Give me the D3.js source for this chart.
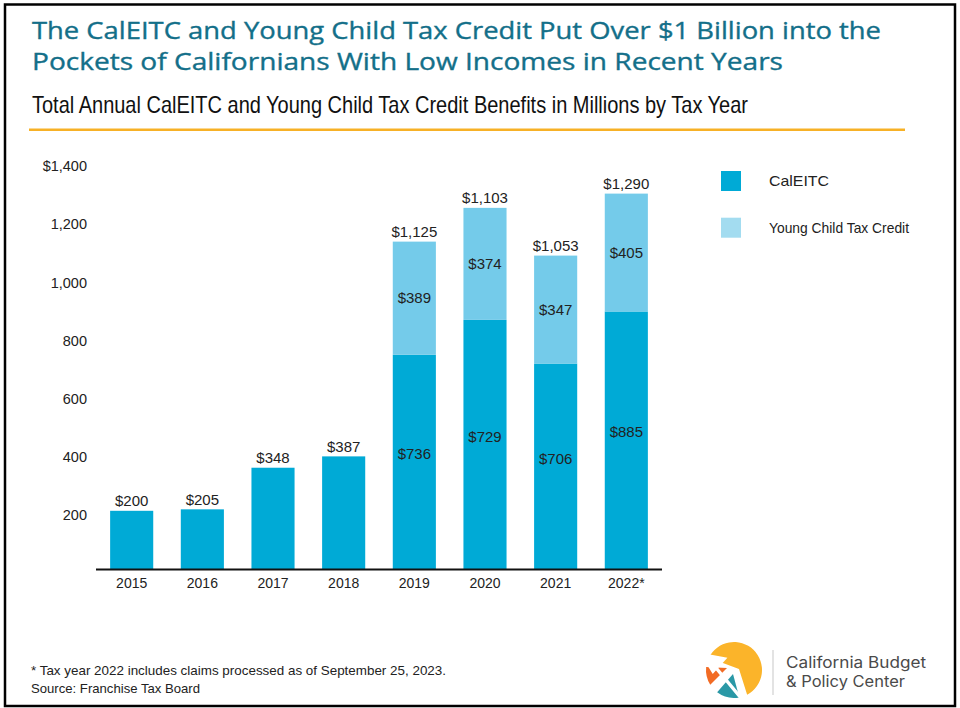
<!DOCTYPE html>
<html>
<head>
<meta charset="utf-8">
<script src="https://cdn.jsdelivr.net/npm/d3@7"></script>
<style>
  html, body { margin: 0; padding: 0; background: #fff; }
  svg { display: block; }
</style>
</head>
<body>
<svg id="chart" width="960" height="708"></svg>
<script>
// ---- Data (millions of dollars) ----
const years = ["2015", "2016", "2017", "2018", "2019", "2020", "2021", "2022*"];
// bar heights as drawn in the reference
const calEITC = [200, 205, 348, 387, 736, 856, 706, 885];
const youngChild = [0, 0, 0, 0, 389, 385, 371, 405];
// values as printed on the reference
const calEITCLabels = [200, 205, 348, 387, 736, 729, 706, 885];
const youngChildLabels = [null, null, null, null, 389, 374, 347, 405];
const totalLabels = [200, 205, 348, 387, 1125, 1103, 1053, 1290];
const yTicks = [200, 400, 600, 800, 1000, 1200, 1400];
const seriesNames = ["CalEITC", "Young Child Tax Credit"];

const titleLines = [
  "The CalEITC and Young Child Tax Credit Put Over $1 Billion into the",
  "Pockets of Californians With Low Incomes in Recent Years"
];
const subtitle = "Total Annual CalEITC and Young Child Tax Credit Benefits in Millions by Tax Year";
const notes = [
  "* Tax year 2022 includes claims processed as of September 25, 2023.",
  "Source: Franchise Tax Board"
];
const logoLines = ["California Budget", "& Policy Center"];

// ---- Styles ----
const C_DARK = "#00aad6";
const C_LIGHT = "#74cbea";
const C_LEGEND_LIGHT = "#a3dcf0";
const C_TITLE = "#136f89";
const C_RULE = "#f7b126";
const NARROW = "'Liberation Sans Narrow', 'Liberation Sans', Arial, sans-serif";
const LABEL = "'Liberation Sans', Arial, sans-serif";

const svg = d3.select("#chart");

function fitWidth(sel, w) {
  sel.each(function () {
    const len = this.getComputedTextLength();
    if (len > 0 && Math.abs(len - w) > 1) {
      d3.select(this).attr("textLength", w).attr("lengthAdjust", "spacingAndGlyphs");
    }
  });
  return sel;
}

// frame
svg.append("rect")
  .attr("x", 5).attr("y", 4.5).attr("width", 950).attr("height", 701.5)
  .attr("fill", "none").attr("stroke", "#000").attr("stroke-width", 2.5);

// title
const titleW = [849, 751];
titleLines.forEach((t, i) => {
  fitWidth(svg.append("text")
    .attr("x", 32).attr("y", 39 + i * 30.7)
    .attr("font-family", "'Open Sans', Lato, sans-serif")
    .attr("font-size", 23.2)
    .attr("fill", C_TITLE)
    .attr("stroke", C_TITLE).attr("stroke-width", 0.35)
    .text(t), titleW[i]);
});

fitWidth(svg.append("text")
  .attr("x", 32).attr("y", 113.3)
  .attr("font-family", NARROW)
  .attr("font-size", 24)
  .attr("fill", "#111")
  .text(subtitle), 716);

svg.append("line")
  .attr("x1", 29).attr("x2", 905).attr("y1", 129.8).attr("y2", 129.8)
  .attr("stroke", C_RULE).attr("stroke-width", 2.6);

// ---- Scales ----
const y = d3.scaleLinear().domain([0, 1400]).range([569, 161.6]);
const x = d3.scaleBand().domain(years).range([96, 662])
  .paddingInner(0.39).paddingOuter(0.2);

// y-axis (labels only)
const yAxis = d3.axisLeft(y).tickValues(yTicks)
  .tickSize(0).tickPadding(0)
  .tickFormat(d => d === 1400 ? "$" + d3.format(",")(d) : d3.format(",")(d));
const yg = svg.append("g").attr("transform", "translate(87,4.5)").call(yAxis);
yg.select(".domain").remove();
yg.selectAll("text").attr("font-family", LABEL).attr("font-size", 14.5).attr("fill", "#222");

// bars
const rows = years.map((yr, i) => ({ yr, i, a: calEITC[i], b: youngChild[i] }));

svg.append("g").selectAll("rect").data(rows).join("rect")
  .attr("x", d => x(d.yr)).attr("width", x.bandwidth())
  .attr("y", d => y(d.a)).attr("height", d => y(0) - y(d.a))
  .attr("fill", C_DARK);

svg.append("g").selectAll("rect").data(rows.filter(d => d.b > 0)).join("rect")
  .attr("x", d => x(d.yr)).attr("width", x.bandwidth())
  .attr("y", d => y(d.a + d.b)).attr("height", d => y(d.a) - y(d.a + d.b))
  .attr("fill", C_LIGHT);

// x-axis
const xAxis = d3.axisBottom(x).tickSize(0).tickPadding(9);
const xg = svg.append("g").attr("transform", "translate(0," + y(0) + ")").call(xAxis);
xg.select(".domain").attr("stroke", "#111").attr("stroke-width", 2).attr("d", "M96,0.5H662");
xg.selectAll("text").attr("font-family", LABEL).attr("font-size", 14).attr("fill", "#222");

const money = v => "$" + d3.format(",")(v);

// total labels above bars
svg.append("g").selectAll("text").data(rows).join("text")
  .attr("x", d => x(d.yr) + x.bandwidth() / 2)
  .attr("y", d => y(d.a + d.b) - 4.5)
  .attr("text-anchor", "middle")
  .attr("font-family", LABEL).attr("font-size", 15).attr("fill", "#222")
  .text(d => money(totalLabels[d.i]));

// inner labels for stacked years
const stacked = rows.filter(d => youngChildLabels[d.i] != null);
svg.append("g").selectAll("text").data(stacked).join("text")
  .attr("x", d => x(d.yr) + x.bandwidth() / 2)
  .attr("y", d => (y(d.a) + y(d.a + d.b)) / 2)
  .attr("dy", "0.35em")
  .attr("text-anchor", "middle")
  .attr("font-family", LABEL).attr("font-size", 15).attr("fill", "#222")
  .text(d => money(youngChildLabels[d.i]));

svg.append("g").selectAll("text").data(stacked).join("text")
  .attr("x", d => x(d.yr) + x.bandwidth() / 2)
  .attr("y", d => (y(0) + y(d.a)) / 2 - 8)
  .attr("dy", "0.35em")
  .attr("text-anchor", "middle")
  .attr("font-family", LABEL).attr("font-size", 15).attr("fill", "#222")
  .text(d => money(calEITCLabels[d.i]));

// legend
const legendColors = [C_DARK, C_LEGEND_LIGHT];
const legendW = [60, 140];
seriesNames.forEach((n, i) => {
  const g = svg.append("g").attr("transform", `translate(721,${171 + i * 46.7})`);
  g.append("rect").attr("width", 20).attr("height", 20).attr("fill", legendColors[i]);
  fitWidth(g.append("text").attr("x", 48).attr("y", 10).attr("dy", "0.35em")
    .attr("font-family", NARROW).attr("font-size", 15).attr("fill", "#222")
    .text(n), legendW[i]);
});

// footnotes
const noteW = [415, 169];
notes.forEach((t, i) => {
  fitWidth(svg.append("text").attr("x", 31).attr("y", 674.5 + i * 18)
    .attr("font-family", NARROW).attr("font-size", 13.5).attr("fill", "#222")
    .text(t), noteW[i]);
});

// logo (circle split into three pieces by a white arrow)
const cx = 734, cy = 670, R = 28, deg = Math.PI / 180;
const onC = a => [cx + R * Math.cos(a * deg), cy + R * Math.sin(a * deg)];
function wedge(apex, a0, a1, extra) {
  const p = d3.path();
  const s = onC(a0);
  p.moveTo(apex[0], apex[1]);
  p.lineTo(s[0], s[1]);
  p.arc(cx, cy, R, a0 * deg, a1 * deg, false);
  (extra || []).forEach(q => p.lineTo(q[0], q[1]));
  p.closePath();
  return p.toString();
}
const logo = svg.append("g");
logo.append("path").attr("d", wedge([739, 669], 206, 422, [[739, 669]]))
  .attr("fill", "#fbb42a");
logo.append("path").attr("d", wedge([733, 674], 79, 127)).attr("fill", "#2a98a6");
logo.append("path").attr("d", wedge([727, 668], 148, 186)).attr("fill", "#f26b24");
// white arrow head cutting the upper-left
logo.append("path")
  .attr("d", "M703,655 L724,659 L713,671 Z M712,663 L741,698")
  .attr("fill", "#fff").attr("stroke", "#fff").attr("stroke-width", 3.5);
logo.append("line").attr("x1", 773).attr("x2", 773).attr("y1", 650).attr("y2", 695)
  .attr("stroke", "#d0d0d0").attr("stroke-width", 1.2);
const logoW = [140, 119];
logoLines.forEach((t, i) => {
  fitWidth(logo.append("text").attr("x", 786).attr("y", 667.7 + i * 19.6)
    .attr("font-family", "Inter, 'Open Sans', sans-serif").attr("font-size", 15.5)
    .attr("fill", "#4a4a4a").text(t), logoW[i]);
});
</script>
</body>
</html>
